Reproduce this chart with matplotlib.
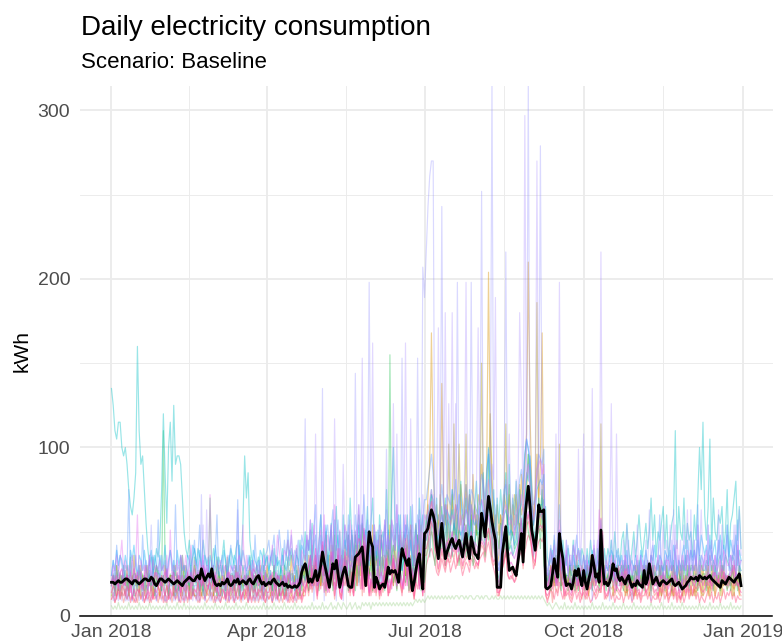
import numpy as np
import matplotlib
matplotlib.use("Agg")
import matplotlib.pyplot as plt
import matplotlib.dates as mdates

plt.rcParams['font.family'] = ['Liberation Sans', 'DejaVu Sans']

# Daily mean consumption across all households (kWh), one value per day of 2018
mean_kwh = [
    20, 20, 19, 20, 21, 20, 20,  21, 22, 22, 21, 20, 19, 21,  21, 20, 19, 20, 21, 22, 22,
    21, 21, 23, 22, 19, 18, 20,  22, 22, 21, 20, 21, 22, 21,  20, 19, 20, 21, 20, 19, 18,
    20, 21, 22, 23, 22, 21, 21,  23, 24, 22, 28, 24, 21, 23,  25, 23, 28, 22, 19, 18, 19,
    18, 20, 19, 20, 22, 19, 18,  19, 21, 20, 22, 19, 20, 21,  20, 19, 21, 22, 20, 19, 21,
    23, 24, 21, 19, 20, 18, 19,
    20, 19, 21, 22, 20, 19, 18,  19, 20, 18, 19, 17, 18, 17,  17, 18, 17, 18, 20, 26, 29,
    31, 26, 20, 22, 20, 23, 27,  21, 24, 30, 38, 32, 27, 22,  17, 24, 31, 28, 33, 25, 17,
    22, 26, 29, 24, 18, 17, 17,  26, 35, 36, 37, 39, 41, 30,  18, 36, 50, 44, 41, 17, 23,
    20, 16, 18, 19, 17, 22, 29,  25, 27, 26, 27, 24, 20, 31,  40, 36, 33, 30, 34, 24, 15,
    20, 27, 33, 37, 25, 16, 49,
    50, 52, 58, 63, 60, 55, 41,  34, 45, 55, 44, 34, 38, 41,  44, 46, 42, 40, 43, 45, 40,
    35, 42, 49, 40, 34, 47, 42,  37, 36, 34, 45, 61, 55, 47,  60, 71, 64, 56, 50, 45, 17,
    17, 17, 37, 45, 53, 38, 27,  28, 29, 26, 24, 32, 40, 49,  32, 57, 68, 77, 65, 51, 45,
    39, 50, 66, 62, 62, 63, 17,  16, 17, 18, 25, 34, 28, 23,  49, 40, 34, 23, 18, 19, 19,
    16, 20, 27, 24, 28, 22, 18,  27, 20, 16, 22, 26, 36, 30,  23, 25, 20, 51, 30, 19, 20,
    18, 20, 24, 31, 27, 28, 23,  21, 23, 21, 19, 22, 24, 20,  17, 19, 18, 21, 19, 18, 17,
    27, 19, 22, 31, 25, 19, 21,  23, 20, 18, 20, 21, 20, 19,  20, 21, 22, 19, 18, 19, 20,
    18, 16, 17, 18, 20, 21, 23,  22, 22, 23, 21, 24, 23, 22,  23, 22, 23, 24, 22, 21, 20,
    19, 18, 17, 21, 20, 19, 21,  23, 22, 21, 20, 22, 23, 25,
    18,
]

# Individual household series, one character per day; character index
# (0-9 then a-z) times the series' kWh step gives the daily consumption.
KWH_DIGITS = "0123456789abcdefghijklmnopqrstuvwxyz"

household_cyan = """
rpmlnnk jkifdce hwmijfb 8675687 9fohbkn gpijjie a879678 6876976 7568657 6796568 768976b jeh9765 6756867
5768574 6857968 7586957 a697b86 79c68a5 8b69d7a 6c8a7e9 5a8c6b7 9d7be8a 6c9a7f8 8ek9b7c 7a9c8d6 9b7eac8
cadfb9e 8bdae9c afc9bdg 9ceaf8b dgcaeh9 ckdaf9e bfcdhai 9ecgbfa cdhgjeb 8aecf9d 7686957 8597686 6957868
7586978 6879586 8796a78 69a7b86 8a79c97 9b8ae9c 7a9bd8c 79bcm8d a9e8b9a 7c9ekfn c9dl8ea 9cbd8af 7bceg9d 8
"""
household_lavender = """
2132122 3121312 2213122 1362213 2231121 3122131 2121322 1318212 2132112 1221313 2127121 2312212 1321221
2312132 1323122 3142325 d432513 243f153 2635142 3153624 3g52634 25m6353 36243b4 5364253 h463526 24h53nl
ortuu64 57r6475 6475m64 75865m6 5768s75 689z764 3568o76 5467586 59bz876 79av852 2324323 4232533 2342323
3242315 2435223 3152432 2324252 1323243 2523142 3242325 4352624 3263427 2536243 4263524 3526342 2436253 3
"""
household_violet = """
2313221 3212312 1322131 2413212 3121322 2312143 1323212 2132617 3212231 2321312 1312423 2231321 3122132
3212312 2321423 2413243 353423c 4352634 253d524 3a42536 24635h4 5364i35 4625374 36e5c46 45i63d5 4637586
5746857 j657k6e 6k7e586 57m6847 68j7596 786a9l5 465798c 68597ke 7x9a867 8u98a63 32433c2 m342534 4352b36
c3425f3 453o424 35e42c3 4253624 3526243 4237352 2453634 3627243 5243725 3526473 4362534 2735426 4253637 4
"""
household_gold = """
3425342 4352436 3425342 5342453 2435324 4253426 3542435 4325342 3452435 2435324 4253543 3425342 4352435
3425342 4352436 3425352 6453745 4637584 5748365 6475836 5837496 7485936 5846375 9476548 6748597 5968478
8cfsg97 a8nc9b7 9c8ba7d b9dac8e a8cbfd9 fyhc9a5 6a8cb9d 8b9ca8e bfizkd9 cgbfs94 4354365 6354435 4536345
4352643 5436354 3546435 4352534 3425343 4352435 3425342 4352435 3524352 4253425 3524352 4352534 3425342 4
"""
household_olive = """
2342324 3242342 2432423 3423243 2342324 4232342 3243232 2342423 3242324 2432342 3423243 2342324 3243423
3243242 4232432 3423254 5364536 4536475 6475364 5364758 6475836 5746385 7485647 5638475 6847563 7586947
9b8ca9b 8ca9b7h 9aj8bh9 a9i8cb9 b8a9pca 9dkea8b 8a9bj9c a8cb9da b9cge8a cvb9d64 3453435 h354435 3453543
4353435 345j343 4352435 3435243 4253435 3534253 4352435 3425343 5243534 3524352 4352534 3425343 4352435 3
"""
household_green = """
4536354 6453745 5364536 4537465 53m6445 4635374 6453647 4536354 5e46375 4653745 5364536 4537453 6453645
4536354 6453745 5364536 4637465 5364736 4736574 6475364 5364756 4756374 6475364 v645374 5746375 6475364
6a7b869 7a8c697 a7b8c69 8b7a9c6 7c8a9b7 a9c7b8a 8b9a7c8 9a8c7b9 b8ca9d7 a9c8e65 4535464 5364536 4536354
5364536 4536453 5364536 4635364 5463645 3645364 5364536 4536453 5364536 6453645 5364536 4536453 5364536 4
"""
household_lime = """
3232423 2324232 3242323 2423232 3232423 2324232 4232323 2323242 3232423 2324232 3242323 2423232 3232423
2324232 3242323 2423232 3232423 2324232 3423243 2432342 3423243 4342434 3434343 4343434 3434343 4545454
5656565 6565656 5656656 6565665 5665656 6556565 5656565 6565656 5656565 6565654 3432343 2324232 3242323
2323242 3232423 2324232 3242323 2423232 3232423 2324232 3242323 2423232 3232423 2324232 3242323 2423232 3
"""
household_magenta = """
9bac8de a9cb7ae bd9a8cf 8ab9dca 9cabe8b ad9bc7a b8dac9e acb9fda 8bd9c7a 9ab8cda c9ad8bb a8cb9ed b9ac8da
9bda8cb a8c9bd7 9a8b7c9 8cfi9bk 9ahmfa7 cjg8ak9 7ajeb8a 9gknm8q kh7b9a8 e7a9cg8 b8ie9hd a8n9gbe 9cl8a7o
qsvyuqm ikrmjln mpkoljm korlkpm ljiouqn tzwqmk9 9aknrjf gfdelpt jqxzuqn ktwvuw9 8aefh9c pgd8a9b 7bca9e8
ea8bdgc 9bcta9b 9bdfa8e 9cbeac8 9a8b9a8 ea9cfb9 a8bca9b 8ab9ca8 7a8b9ab a9bcab9 bcab9cd bacbdac bcdfb9a 9
"""
household_pink = """
7985a69 8697a58 6879a75 8695879 7a86958 6978a69 8795a68 7a69b87 9a8c796 6875869 7968a57 8695a78 6879587
7968a58 6857968 5786958 7ac8e9g 6adfb8c bfd6ae7 5bgca7d 6ejfk8m gd6b8c7 b6a8dh6 9ahcbfa 8bkcf8c 6bh9c6k
kmpsqki ehkifhj hkjlgij fhkjgli hgfkmlj oqnigh7 78fhkdb cbacgkm fnsuqkh gpqrqs7 67a8bc9 ib96897 69a8b76
a7698b9 7988p86 7aba798 7a9b897 8697868 b78ac97 8697a89 6797968 5797a79 7989a87 8a9b8ab 9b9aca9 aba9ba8 7
"""
household_red = """
5646757 4657564 6475746 5647564 7564657 4756465 5746576 6457564 5674657 4657465 6475647 5647564 7465746
5647564 6475746 5647567 8a6c79b 7bd9a6c 9eb5ad7 6ac9b6d 7dhcj6k eb6a7b6 a5a7ch6 8bgaec9 7ajbe7b 5ag8b6i
iknpnjg dgjheig gjhkfhh eghifkh gfejlki nqmhfg6 68egjcb bcabfjl emrsqjg fopqpr6 5694a87 h9a5786 5897a65
9657a87 6877n75 6989687 6987786 7586757 a67a986 7586978 5686857 4686968 6878976 7989796 8a8b9b8 9a98a97 6
"""
household_blue = """
8b7e9ca 7a9p8b6 c8a7g9b 9b7ca8j 7c9b8ad b8m9a7c 9a8c7bf 8ci9b7a a7b9ck8 9c8a7be 8a9n7b9 a8c9b7g 9b7a8cd
fbdgach dafbhcg bdcfage cgdjbhm aekfcgi dhlbfjc aeidkbg ckgmeho fjbeaic hbfdjag djhemcf bkfigdm cfkhbjn
nqtwsmk jlqmkon mpnrlon knqmlpo mlkpsqn rxtpnlb abmpqlj kjhinrt pwzxvqm ntwvuxa 9beagcf mfdaceb 9ecgbda
9b8a7c9 8ag9b7a 9c8b7da a8b9c7a 8a9b7c8 b9a8cea 9bk8a9c 8c9ae7b a9b8c9d 9dam8cb a9cecb8 bfc9adg 9cbeaj8 b
"""
household_sky = """
8b9dacb 9ca8dbe a8cb9da 7bd8ca9 c9ae8bd 9b8dac9 a7cb9ed b9da8cb 8ca9eb9 a8db9ca 9cb8ead b9ac8db a8dc9bc
9bd8cab 8ca9bdc a9cb8ed bfdhaeg 8cgbeia ehbjdga 9dfcgbh bgdiekf hcaedgb fagcidh bhfdgka 9eigbfc ahdjcfg
hklonjf gikhjlk jlhkmig hjlkgmj ijhlnkh twqjhfa 9bikljg hgefilm qwzxuli kpqrqs9 8abdac9 hb9ac8b 8ca9b7a
c8ab9da 9bajb8a 9bdca8c ac9bd8a b9ca8db 9da8cbe a9cb8dc bd9ec8b 9ceafbd bdafcge ceagbdf adgbeci bfdcgad b
"""
household_teal = """
6847958 7958674 8697586 5968479 7586947 6948576 8576948 6957486 9586749 7485968 5968475 8694758 6857496
7958684 6847597 8596478 7a8c69b 6b9d8ac 8ca9e7b 7d9b8fa 9ebgcah a8db9ce 8bfa9dc ace8bgd 9bfcah8 cage9bf
fhjlieg dfhegji egihfhg dgifhjf ehgijlh kmigec7 8aegifd ecdefhj gnrwqhe fjlmmn8 7968a79 d9a7887 6897a86
8a79b98 79a8g97 8a9b8a7 9a8b9a8 7a98b97 a8b9ca8 9b8a9b7 8a9b8a9 7b9c8a9 a9b8ca9 9bac9ba 8bca9cb a9cb8da 9
"""
household_orchid = """
7a9c8bf 9b7a8c9 ak8b9a7 8c7b9a9 b9a8c7h 8a9b7ca 9c8ae7b a7b9c8a 8o9a7b9 b8a9c7a 9a7bc8i 7c9a8b9 a8b7c9a
cae9bgd a9dcfbh 9bea8dc bgdjcie 9fhbkcg dibmfah 8eigcjb bhemdkf gcbeaid fbhcjdg bjfdmeh cgkfbid agdjbhk
jlnpmki gikhmlj ikjmlhk hjlkimj kjhlnmj prmkig9 9bhkmli jhgilmo kpsuqnj ltuvsu9 8adbeac jcb9d8c 9ecbda9
c8b9a7e 9bl8a7b a8c9b7a 9b7ca8b 8a9c7b9 a8b9c7a 9c8ba7b b9a8cf9 8ca9db7 a9c8b9a bd8ca9c 9ab8dca ac9b8ea b
"""
household_plum = """
aca9bdb 9bcadab cabd9cb b9cabdc a9bdcab cbad9bc 9cabdba bdac9ce acb9dab b9cadbc 9bdacab cab9dbc abdc9ab
bca9dbc 9bcadb9 a9b8ca9 bdfhcgi aeicfbd cgjbhdk 9hdcieg bfhjgkl ifbdac9 hbdafic cfhdgjb 9ckeihd bgjdfbm
nprtsnk hlnjkml kmlnjlk ilmkjnl mlkonml ruqmkhb aejmoki jihjlnq mstvsni lrtutsb 9bdfgac kdb9acb 9cdbaca
dabcfcb abdpbab bcedbad bdcbeab 9abcab9 dbacebb abcbdab bacbdab 9bacbdb bcabdcb cbdcbdc bdcedcb cdebdcb a
"""
household_rose = """
5746857 6857465 4685746 7465857 5847465 6758547 4657586 5746857 6857465 4685746 7465857 5847465 6758547
5746857 6857465 4685746 6a7b8c9 5c8d7b9 7d9a8e6 5b9c7e8 6d9f8g7 c9e6a7b 8a6c9e7 7b9d8ea 6c9e7a8 5a8d9c7
fhjkigd cehfdgh dfhegif cegfdhg egfhijg kmjgeca 6aegjhe ecdfgij hjmonke gkmnmo7 4687586 a758675 4685746
7586457 5687i56 6857465 5746857 4685746 6857465 5746857 4685746 5746857 6857465 4685746 5746857 6857465 5
"""

# kWh per character step for each household series
household_steps = {
    'cyan': 5, 'lavender': 9, 'violet': 9, 'gold': 6, 'olive': 6, 'green': 5,
    'lime': 2, 'magenta': 2, 'pink': 2, 'red': 2, 'blue': 3, 'sky': 3,
    'teal': 3, 'orchid': 3, 'plum': 2, 'rose': 2,
}
household_codes = {
    'cyan': household_cyan, 'lavender': household_lavender, 'violet': household_violet,
    'gold': household_gold, 'olive': household_olive, 'green': household_green,
    'lime': household_lime, 'magenta': household_magenta, 'pink': household_pink,
    'red': household_red, 'blue': household_blue, 'sky': household_sky,
    'teal': household_teal, 'orchid': household_orchid, 'plum': household_plum,
    'rose': household_rose,
}

x_tick_labels = ["Jan 2018", "Apr 2018", "Jul 2018", "Oct 2018", "Jan 2019"]
x_tick_dates = ["2018-01-01", "2018-04-01", "2018-07-01", "2018-10-01", "2019-01-01"]
y_ticks = [0, 100, 200, 300]

# line colours (hue palette) and opacity
line_colors = {
    'cyan': '#00BFC4', 'lavender': '#8F8CFF', 'violet': '#A78BFF', 'gold': '#D89000',
    'olive': '#B3A000', 'green': '#00BA38', 'lime': '#8FCB7A', 'magenta': '#EE4FD2',
    'pink': '#FF4FA0', 'red': '#F8766D', 'blue': '#619CFF', 'sky': '#00B0F6',
    'teal': '#00C19A', 'orchid': '#E36EF0', 'plum': '#D65FE6', 'rose': '#FF5C88',
}
line_alpha = {
    'cyan': 0.4, 'lavender': 0.33, 'violet': 0.33, 'gold': 0.42, 'olive': 0.4,
    'green': 0.35, 'lime': 0.35, 'magenta': 0.55, 'pink': 0.55, 'red': 0.45,
    'blue': 0.42, 'sky': 0.4, 'teal': 0.4, 'orchid': 0.4, 'plum': 0.5, 'rose': 0.5,
}


def decode(code, step):
    chars = "".join(code.split())
    return np.array([KWH_DIGITS.index(c) * step for c in chars], dtype=float)


start = np.datetime64("2018-01-01")
n_days = len(mean_kwh)
dates = start + np.arange(n_days).astype("timedelta64[D]")

fig = plt.figure(figsize=(7.82, 6.43), dpi=100)
ax = fig.add_axes([80 / 782, 27 / 643, 692.5 / 782, 530 / 643])

order = ['lime', 'red', 'rose', 'olive', 'gold', 'green', 'teal', 'cyan', 'sky', 'blue',
         'lavender', 'violet', 'orchid', 'plum', 'pink', 'magenta']
for name in order:
    vals = decode(household_codes[name], household_steps[name])[:n_days]
    ax.plot(dates[:len(vals)], vals, color=line_colors[name], lw=0.85,
            alpha=line_alpha[name], solid_joinstyle='round', zorder=2)

ax.plot(dates, mean_kwh, color='black', lw=2.0, zorder=5, solid_joinstyle='round')

# axes limits
x0 = mdates.date2num(start)
x1 = x0 + (n_days - 1)
pad = 0.05 * (x1 - x0)
ax.set_xlim(x0 - pad, x1 + pad)
ax.set_ylim(0, 314.5)

major_x = [mdates.date2num(np.datetime64(d)) for d in x_tick_dates]
minor_x = [(a + b) / 2 for a, b in zip(major_x[:-1], major_x[1:])]
ax.set_xticks(major_x)
ax.set_xticklabels(x_tick_labels)
ax.set_xticks(minor_x, minor=True)
ax.set_yticks(y_ticks)
ax.set_yticks([50, 150, 250], minor=True)

ax.grid(which='major', color='#EBEBEB', lw=1.3, zorder=0)
ax.grid(which='minor', color='#EBEBEB', lw=0.65, zorder=0)
ax.set_axisbelow(True)

for side in ['top', 'right', 'left']:
    ax.spines[side].set_visible(False)
ax.spines['bottom'].set_color('black')
ax.spines['bottom'].set_linewidth(1.1)
ax.spines['bottom'].set_zorder(6)

ax.tick_params(which='both', length=0)
ax.tick_params(axis='y', labelsize=14, labelcolor='#4D4D4D', pad=7)
ax.tick_params(axis='x', labelsize=14, labelcolor='#4D4D4D', pad=6)

fig.text(81 / 782, 1 - 35 / 643, "Daily electricity consumption", fontsize=20,
         ha='left', va='baseline', color='black')
fig.text(81 / 782, 1 - 68 / 643, "Scenario: Baseline", fontsize=16,
         ha='left', va='baseline', color='black')
fig.text(22 / 782, 1 - 351 / 643, "kWh", fontsize=15, rotation=90,
         ha='center', va='center', color='black')

fig.savefig("out.png", dpi=100)
